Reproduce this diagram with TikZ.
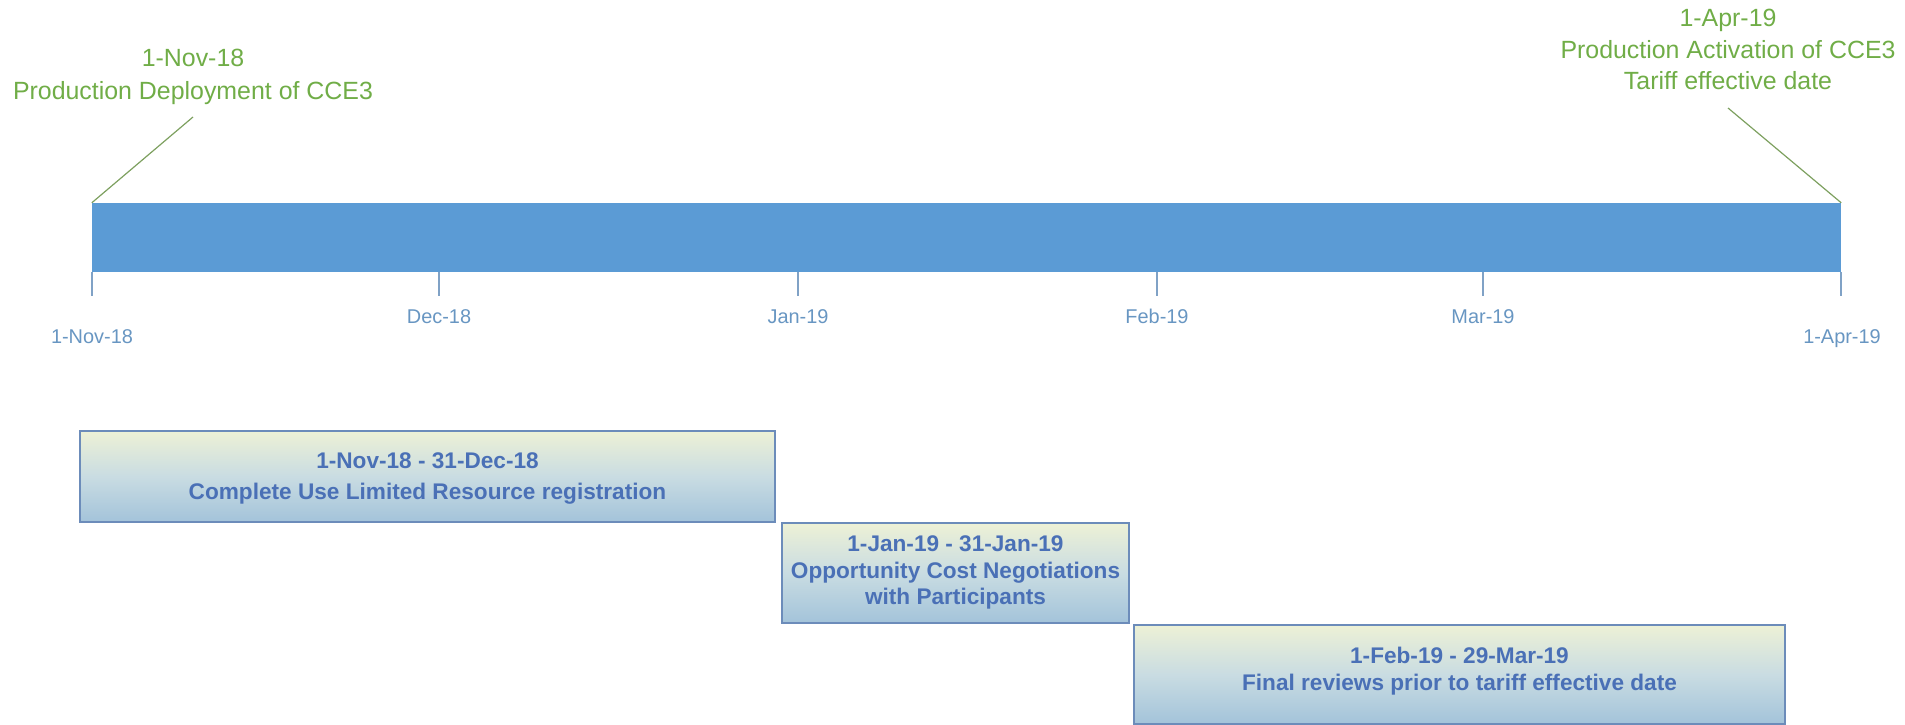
\documentclass[tikz,border=0pt]{standalone}
\usepackage{fontspec}
\setmainfont{Liberation Sans}
\definecolor{barblue}{HTML}{5B9BD5}
\definecolor{axislbl}{RGB}{104,150,194}
\definecolor{tickcol}{RGB}{128,162,198}
\definecolor{greentxt}{HTML}{70AD47}
\definecolor{leadcol}{RGB}{125,160,95}
\definecolor{boxedge}{RGB}{108,140,186}
\definecolor{boxtop}{HTML}{EDF1D6}
\definecolor{boxmid}{HTML}{C9DCE2}
\definecolor{boxbot}{HTML}{A3C3DA}
\definecolor{boxtxt}{HTML}{4A70B6}
\begin{document}
\begin{tikzpicture}[x=1bp,y=-1bp,
  greenline/.style={anchor=base, text=greentxt, inner sep=0pt, font=\fontsize{25}{30}\selectfont},
  axislabel/.style={anchor=base, text=axislbl, inner sep=0pt, font=\fontsize{20}{24}\selectfont},
  boxline/.style={anchor=base, text=boxtxt, inner sep=0pt, font=\fontsize{22.7}{26}\selectfont\bfseries},
  taskbox/.style={draw=boxedge, line width=1.2bp, top color=boxtop, bottom color=boxbot, middle color=boxmid, inner sep=0pt, minimum width=#1},
  tickline/.style={draw=tickcol, line width=1.4bp},
  leader/.style={draw=leadcol, line width=1.2bp}]
\useasboundingbox (0,0) rectangle (1905,725);

% timeline bar
\node[fill=barblue, inner sep=0pt, minimum width=1749bp, minimum height=69bp] (bar) at (966.5,237.5) {};

% ticks
\coordinate (t0) at (92,296);
\coordinate (t1) at (439,296);
\coordinate (t2) at (798,296);
\coordinate (t3) at (1157,296);
\coordinate (t4) at (1483,296);
\coordinate (t5) at (1841,296);
\foreach \t in {t0,t1,t2,t3,t4,t5}
  \draw[tickline] (\t |- bar.south) -- (\t);

% axis labels
\node[axislabel] (lnov) at (92,343) {1-Nov-18};
\node[axislabel] (ldec) at (439,323) {Dec-18};
\node[axislabel] (ljan) at (798,323) {Jan-19};
\node[axislabel] (lfeb) at (1157,323) {Feb-19};
\node[axislabel] (lmar) at (1483,323) {Mar-19};
\node[axislabel] (lapr) at (1842,343) {1-Apr-19};

% milestone callouts
\node[greenline] (m1a) at (193,67) {1-Nov-18};
\node[greenline] (m1b) at (193,100) {Production Deployment of CCE3};
\coordinate (lead1) at (193,117);
\draw[leader] (bar.north west) -- (lead1);

\node[greenline] (m2a) at (1728,27) {1-Apr-19};
\node[greenline] (m2b) at (1728,59) {Production Activation of CCE3};
\node[greenline] (m2c) at (1728,90) {Tariff effective date};
\coordinate (lead2) at (1728,108);
\draw[leader] (bar.north east) -- (lead2);

% task boxes
\node[taskbox=695bp, minimum height=91bp] (box1) at (427.5,476.5) {};
\node[boxline] (b1a) at (427.5,468) {1-Nov-18 - 31-Dec-18};
\node[boxline] (b1b) at (427.5,499) {Complete Use Limited Resource registration};

\node[taskbox=347bp, minimum height=100bp] (box2) at (955.5,573) {};
\node[boxline] (b2a) at (955.5,551) {1-Jan-19 - 31-Jan-19};
\node[boxline] (b2b) at (955.5,578) {Opportunity Cost Negotiations};
\node[boxline] (b2c) at (955.5,604) {with Participants};

\node[taskbox=651bp, minimum height=99bp] (box3) at (1459.5,674.5) {};
\node[boxline] (b3a) at (1459.5,663) {1-Feb-19 - 29-Mar-19};
\node[boxline] (b3b) at (1459.5,690) {Final reviews prior to tariff effective date};
\end{tikzpicture}
\end{document}
